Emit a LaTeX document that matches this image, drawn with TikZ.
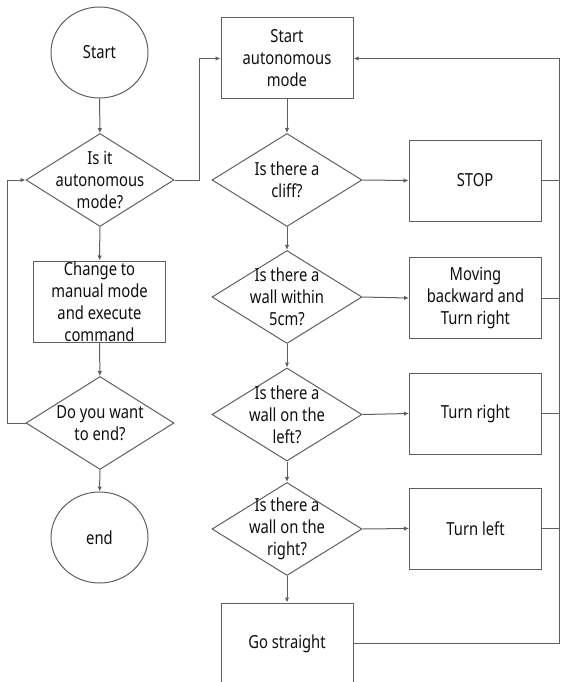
\documentclass[tikz,border=0pt]{standalone}
\usepackage{fontspec}
\setmainfont[FakeStretch=0.82]{Noto Sans}
\usetikzlibrary{shapes.geometric,arrows.meta}
\definecolor{linegray}{RGB}{95,95,95}
\definecolor{txt}{RGB}{15,15,15}
\begin{document}
\begin{tikzpicture}[x=1pt,y=-1pt,
  font=\fontsize{18}{22}\selectfont,
  every node/.style={text=txt},
  base/.style={draw=linegray,line width=1pt},
  procbox/.style={base,rectangle,minimum width=132pt,minimum height=81pt,align=center,inner sep=0pt},
  termnode/.style={base,ellipse,minimum width=97pt,minimum height=91pt,inner sep=0pt},
  decnode/.style={base,diamond,minimum width=#1,minimum height=93pt,inner sep=0pt},
  decnode/.default=150pt,
  lbl/.style={align=center,inner sep=0pt,text=txt},
  arr/.style={draw=linegray,line width=1pt,-{Latex[length=5pt,width=4.5pt]}},
  ln/.style={draw=linegray,line width=1pt}]
\useasboundingbox (0,0) rectangle (560,682);
\clip (0,0) rectangle (560,682);

% left column
\node[termnode] (start) at (99.5,52.5) {Start};
\node[decnode=148pt,label={[lbl,name=d1t]center:{Is it\\autonomous\\mode?}}] (d1) at (100,180) {};
\node[procbox] (chg) at (99.5,301.5) {Change to\\manual mode\\and execute\\command};
\node[decnode=148pt,label={[lbl,name=d2t]center:{Do you want\\to end?}}] (d2) at (100,423) {};
\node[termnode] (fin) at (99.5,537.5) {end};

% right column
\node[procbox] (sam) at (287,58.5) {Start\\autonomous\\mode};
\node[decnode,label={[lbl,name=c1t]center:{Is there a\\cliff?}}] (c1) at (287,180) {};
\node[decnode,label={[lbl,name=c2t]center:{Is there a\\wall within\\5cm?}}] (c2) at (287,297) {};
\node[decnode,label={[lbl,name=c3t]center:{Is there a\\wall on the\\left?}}] (c3) at (287,414.5) {};
\node[decnode,label={[lbl,name=c4t]center:{Is there a\\wall on the\\right?}}] (c4) at (287,529) {};
\node[procbox] (go) at (287,643.5) {Go straight};

% action boxes
\node[procbox] (stop) at (475,180.5) {STOP};
\node[procbox] (mb) at (475.5,298) {Moving\\backward and\\Turn right};
\node[procbox] (tr) at (475.5,413.5) {Turn right};
\node[procbox] (tl) at (475.5,528.5) {Turn left};

% left column connectors
\draw[arr] (start) -- (d1);
\draw[arr] (d1) -- (chg);
\draw[arr] (chg) -- (d2);
\draw[arr] (d2) -- (fin);
\draw[arr] (d2.west) -- ++(-18,0) |- (d1.west);
\draw[arr] (d1.east) -- ++(25,0) |- (sam.west);

% right column connectors
\draw[arr] (sam) -- (c1);
\draw[arr] (c1) -- (c2);
\draw[arr] (c2) -- (c3);
\draw[arr] (c3) -- (c4);
\draw[arr] (c4) -- (go);

\draw[arr] (c1.east) -- (stop.west);
\draw[arr] (c2.east) -- (mb.west);
\draw[arr] (c3.east) -- (tr.west);
\draw[arr] (c4.east) -- (tl.west);

% return lines
\draw[arr] (go.east) -- ++(206,0) |- (sam.east);
\draw[ln] (stop.east) -- ++(18,0);
\draw[ln] (mb.east) -- ++(18,0);
\draw[ln] (tr.east) -- ++(18,0);
\draw[ln] (tl.east) -- ++(18,0);
\end{tikzpicture}
\end{document}
